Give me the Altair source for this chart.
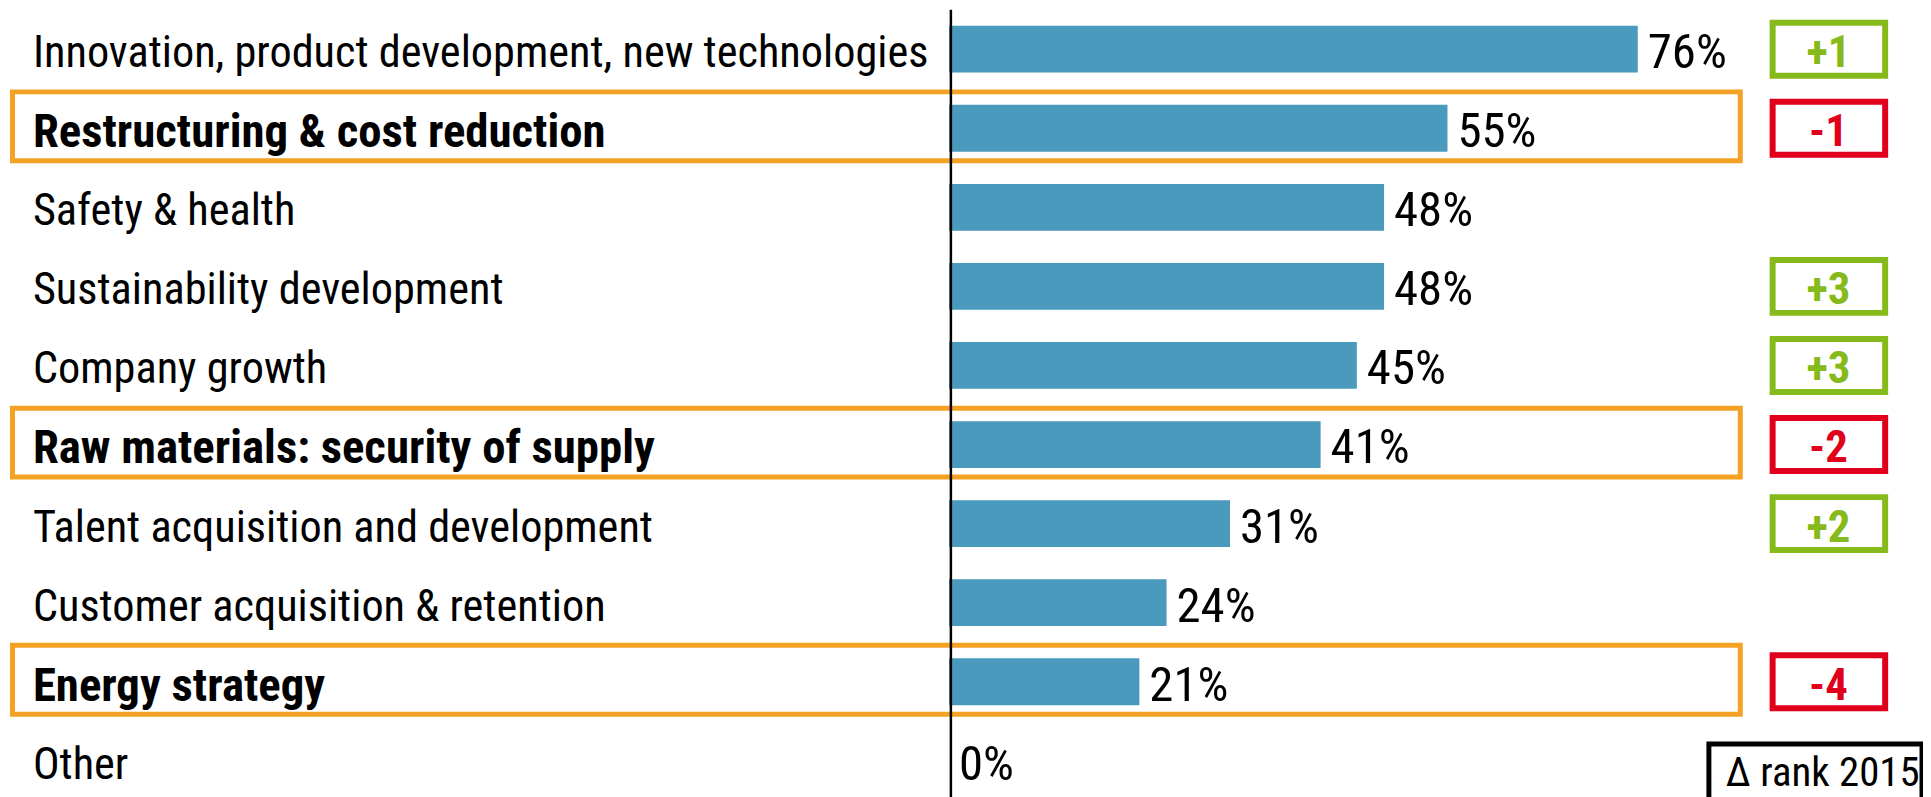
import altair as alt
import pandas as pd

categories = [
    "Innovation, product development, new technologies",
    "Restructuring & cost reduction",
    "Safety & health",
    "Sustainability development",
    "Company growth",
    "Raw materials: security of supply",
    "Talent acquisition and development",
    "Customer acquisition & retention",
    "Energy strategy",
    "Other",
]
shares = [76, 55, 48, 48, 45, 41, 31, 24, 21, 0]
rank_change = ["+1", "-1", "", "+3", "+3", "-2", "+2", "", "-4", ""]
highlighted = [False, True, False, False, False, True, False, False, True, False]
legend_text = ["Δ rank 2015"]

FONT = "'Roboto Condensed', 'Liberation Sans', sans-serif"
BLUE = "#4A9ABD"
ORANGE = "#F4A124"
GREEN = "#86B91A"
RED = "#E0001B"

df = pd.DataFrame({
    "category": categories,
    "share": shares,
    "delta": rank_change,
    "hl": highlighted,
})
df["label"] = df["share"].astype(str) + "%"
df["dcol"] = [GREEN if d.startswith("+") else RED for d in rank_change]

yenc = alt.Y("category:N", sort=categories, axis=None,
             scale=alt.Scale(paddingInner=0, paddingOuter=0))
xscale = alt.Scale(domain=[0, 100], range=[945, 1855])

base = alt.Chart(df)

bars = base.mark_bar(color=BLUE, height=alt.RelativeBandSize(band=0.592)).encode(
    x=alt.X("share:Q", scale=xscale, axis=None),
    y=yenc,
)

pct = base.mark_text(font=FONT, fontSize=49, align="left", baseline="alphabetic",
                     dx=10, dy=19, color="black").encode(
    x=alt.X("share:Q", scale=xscale, axis=None),
    y=yenc,
    text="label:N",
)

axis_rule = alt.Chart(pd.DataFrame({"zero": [0.2]})).mark_rule(
    color="black", strokeWidth=2.5).encode(
    x=alt.X("zero:Q", scale=xscale, axis=None),
)

labels_normal = base.transform_filter("!datum.hl").mark_text(
    font=FONT, fontSize=44.5, align="left", baseline="alphabetic", dy=18, color="black"
).encode(x=alt.value(25), y=yenc, text="category:N")

labels_bold = base.transform_filter("datum.hl").mark_text(
    font=FONT, fontSize=47, fontWeight="bold", align="left", baseline="alphabetic",
    dy=19, color="black"
).encode(x=alt.value(25), y=yenc, text="category:N")

hl_boxes = base.transform_filter("datum.hl").mark_bar(
    color="white", fillOpacity=0, stroke=ORANGE, strokeWidth=5,
    height=alt.RelativeBandSize(band=0.87), yOffset=-2
).encode(x=alt.value(4.5), x2=alt.value(1739.5), y=yenc)

delta_boxes = base.transform_filter("datum.delta != ''").mark_bar(
    color="white", fillOpacity=0, strokeWidth=6,
    height=alt.RelativeBandSize(band=0.67)
).encode(
    x=alt.value(1772), x2=alt.value(1885), y=yenc,
    stroke=alt.Stroke("dcol:N", scale=None, legend=None),
)

delta_text = base.transform_filter("datum.delta != ''").mark_text(
    font=FONT, fontSize=45, fontWeight="bold", align="center", baseline="alphabetic", dy=18
).encode(
    x=alt.value(1828), y=yenc, text="delta:N",
    color=alt.Color("dcol:N", scale=None, legend=None),
)

leg_df = pd.DataFrame({"t": legend_text})
leg_box = alt.Chart(leg_df).mark_rect(
    color="white", fillOpacity=0, stroke="black", strokeWidth=5
).encode(x=alt.value(1708), x2=alt.value(1922), y=alt.value(737.5), y2=alt.value(812))

leg_text = alt.Chart(leg_df).mark_text(
    font=FONT, fontSize=41, align="left", baseline="alphabetic", color="black"
).encode(x=alt.value(1725), y=alt.value(780), text="t:N")

chart = alt.layer(
    hl_boxes, bars, axis_rule, pct, labels_normal, labels_bold,
    delta_boxes, delta_text, leg_box, leg_text
).properties(
    width=1923, height=794, padding=0, autosize=alt.AutoSizeParams(type="none")
).configure_view(stroke=None)

chart.save("out.html", embed_options={"renderer": "svg", "actions": False})
